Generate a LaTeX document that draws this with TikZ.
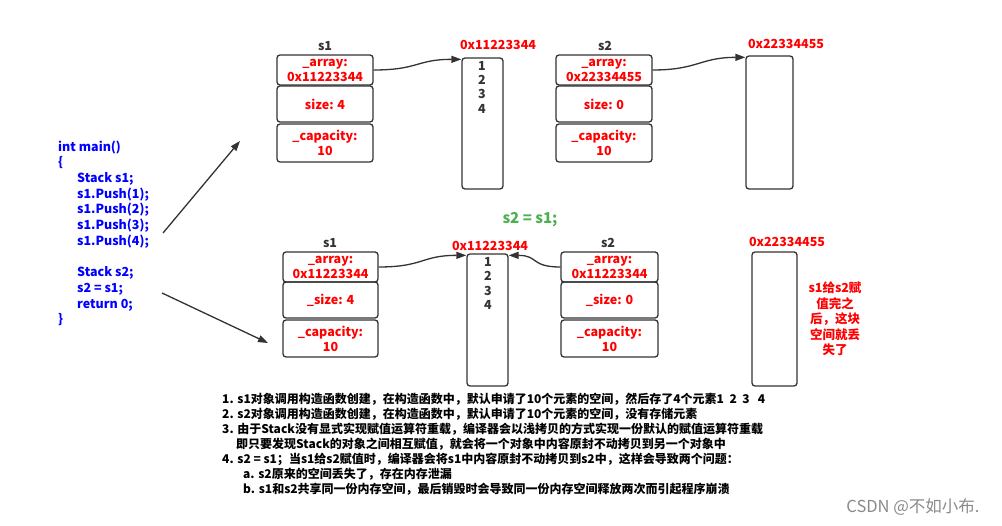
\documentclass[tikz,border=0pt]{standalone}
\usepackage{fontspec}
\setmainfont{Noto Sans CJK SC}
\usetikzlibrary{arrows.meta}
\definecolor{boxc}{HTML}{333333}
\definecolor{redc}{HTML}{FF0000}
\definecolor{bluec}{HTML}{0000FF}
\definecolor{greenc}{HTML}{4CAF50}
\definecolor{wmc}{HTML}{8A8A8A}
\tikzset{
  fld/.style={draw=boxc, line width=1.3pt, rounded corners=3pt, text=redc,
    font=\fontsize{12.5}{15}\selectfont\bfseries, align=center, inner sep=0pt, minimum width=96pt},
  mem/.style={draw=boxc, line width=1.3pt, rounded corners=3pt, inner sep=0pt},
  addr/.style={text=redc, font=\fontsize{12.5}{14}\selectfont\bfseries, inner sep=0pt},
  lbl/.style={text=boxc, font=\fontsize{12.5}{14}\selectfont\bfseries, inner sep=0pt},
  num/.style={text=boxc, font=\fontsize{12.5}{14}\selectfont\bfseries, inner sep=0pt},
  code/.style={text=bluec, font=\fontsize{12.5}{14}\selectfont\bfseries, anchor=west, inner sep=0pt, text height=9pt, text depth=3pt},
  note/.style={text=black, font=\fontsize{12}{14}\selectfont\bfseries, anchor=west, inner sep=0pt, text height=9pt, text depth=3pt},
  conn/.style={draw=boxc, line width=1.3pt, -{Triangle[length=10pt,width=7pt]}},
}
\begin{document}
\begin{tikzpicture}[x=1pt,y=-1pt]
\useasboundingbox[fill=white] (0,0) rectangle (1002,526);

% ---------- code ----------
\node[code] (c1) at (58,148.3) {int main()};
\node[code] (c2) at (58,163.5) {\{};
\node[code] (c3) at (77,179.5) {Stack s1;};
\node[code] (c4) at (77,195.3) {s1.Push(1);};
\node[code] (c5) at (77,211) {s1.Push(2);};
\node[code] (c6) at (77,226.7) {s1.Push(3);};
\node[code] (c7) at (77,242.3) {s1.Push(4);};
\node[code] (c8) at (77,274) {Stack s2;};
\node[code] (c9) at (77,290) {s2 = s1;};
\node[code] (c10) at (77,305.3) {return 0;};
\node[code] (c11) at (58,321) {\}};

\coordinate (u1) at (163,233);
\coordinate (u2) at (240,141);
\coordinate (d1) at (162,293);
\coordinate (d2) at (268,343);
\draw[conn] (u1) -- (u2);
\draw[conn] (d1) -- (d2);

% ---------- top row ----------
\node[lbl] (ts1) at (325,46) {s1};
\node[fld, minimum height=30pt] (ta1) at (325,70) {\_array:\\0x11223344};
\node[fld, minimum height=36pt] (ts1s) at (325,104) {size: 4};
\node[fld, minimum height=38pt] (tc1) at (325,143) {\_capacity:\\10};

\node[addr] (tad1) at (498,45) {0x11223344};
\node[mem, minimum width=41pt, minimum height=131pt] (tm1) at (482.5,123.5) {};
\node[num] (tn1) at (482,65.5) {1};
\node[num] (tn2) at (482,80) {2};
\node[num] (tn3) at (482,94) {3};
\node[num] (tn4) at (482,108.5) {4};

\node[lbl] (ts2) at (605,46) {s2};
\node[fld, minimum height=30pt] (ta2) at (604,70) {\_array:\\0x22334455};
\node[fld, minimum height=36pt] (ts2s) at (604,104) {size: 0};
\node[fld, minimum height=38pt] (tc2) at (604,143) {\_capacity:\\10};

\node[addr] (tad2) at (786,44) {0x22334455};
\node[mem, minimum width=47pt, minimum height=133pt] (tm2) at (769.5,122.5) {};

\draw[conn] (ta1.east) .. controls +(45,0) and +(-45,0) .. ([yshift=-2pt]tm1.north west);
\draw[conn] (ta2.east) .. controls +(45,0) and +(-45,0) .. ([yshift=-2pt]tm2.north west);

% ---------- middle ----------
\node[text=greenc, font=\fontsize{15}{17}\selectfont\bfseries, inner sep=0pt] (asg) at (530,220) {s2 = s1;};

% ---------- bottom row ----------
\node[lbl] (bs1) at (330,243) {s1};
\node[fld, minimum width=95pt, minimum height=30pt] (ba1) at (330.5,267) {\_array:\\0x11223344};
\node[fld, minimum width=95pt, minimum height=36pt] (bs1s) at (330.5,300) {\_size: 4};
\node[fld, minimum width=95pt, minimum height=37pt] (bc1) at (330.5,338.5) {\_capacity:\\10};

\node[addr] (bad1) at (490,246) {0x11223344};
\node[mem, minimum width=41pt, minimum height=132pt] (bm1) at (487.5,320) {};
\node[num] (bn1) at (488,262) {1};
\node[num] (bn2) at (488,276) {2};
\node[num] (bn3) at (488,290.5) {3};
\node[num] (bn4) at (488,305) {4};

\node[lbl] (bs2) at (608,243) {s2};
\node[fld, minimum width=97pt, minimum height=30pt] (ba2) at (609.5,267) {\_array:\\0x11223344};
\node[fld, minimum width=97pt, minimum height=36pt] (bs2s) at (609.5,300) {\_size: 0};
\node[fld, minimum width=97pt, minimum height=37pt] (bc2) at (609.5,338.5) {\_capacity:\\10};

\node[addr] (bad2) at (787,242) {0x22334455};
\node[mem, minimum width=45pt, minimum height=134pt] (bm2) at (774.5,319) {};

\node[text=redc, font=\fontsize{12.5}{15.5}\selectfont\bfseries, align=center, inner sep=0pt] (lost) at (835,319)
  {s1给s2赋\\值完之\\后，这块\\空间就丢\\失了};

\draw[conn] (ba1.east) .. controls +(45,0) and +(-45,0) .. ([yshift=-2pt]bm1.north west);
\draw[conn] (ba2.west) .. controls +(-30,0) and +(30,0) .. ([yshift=-2pt]bm1.north east);

% ---------- notes ----------
\node[note] (n1) at (222,401) {1. s1对象调用构造函数创建，在构造函数中，默认申请了10个元素的空间，然后存了4个元素1\ \ 2\ \ 3\ \ \ 4};
\node[note] (n2) at (222,416) {2. s2对象调用构造函数创建，在构造函数中，默认申请了10个元素的空间，没有存储元素};
\node[note] (n3) at (222,431) {3. 由于Stack没有显式实现赋值运算符重载，编译器会以浅拷贝的方式实现一份默认的赋值运算符重载};
\node[note] (n4) at (236,446) {即只要发现Stack的对象之间相互赋值，就会将一个对象中内容原封不动拷贝到另一个对象中};
\node[note] (n5) at (222,461) {4. s2 = s1；当s1给s2赋值时，编译器会将s1中内容原封不动拷贝到s2中，这样会导致两个问题：};
\node[note] (n6) at (243,476) {a. s2原来的空间丢失了，存在内存泄漏};
\node[note] (n7) at (243,491) {b. s1和s2共享同一份内存空间，最后销毁时会导致同一份内存空间释放两次而引起程序崩溃};

\node[text=wmc, font=\fontsize{16.5}{18}\selectfont, inner sep=0pt] (wm) at (913,507) {CSDN @不如小布.};
\end{tikzpicture}
\end{document}
